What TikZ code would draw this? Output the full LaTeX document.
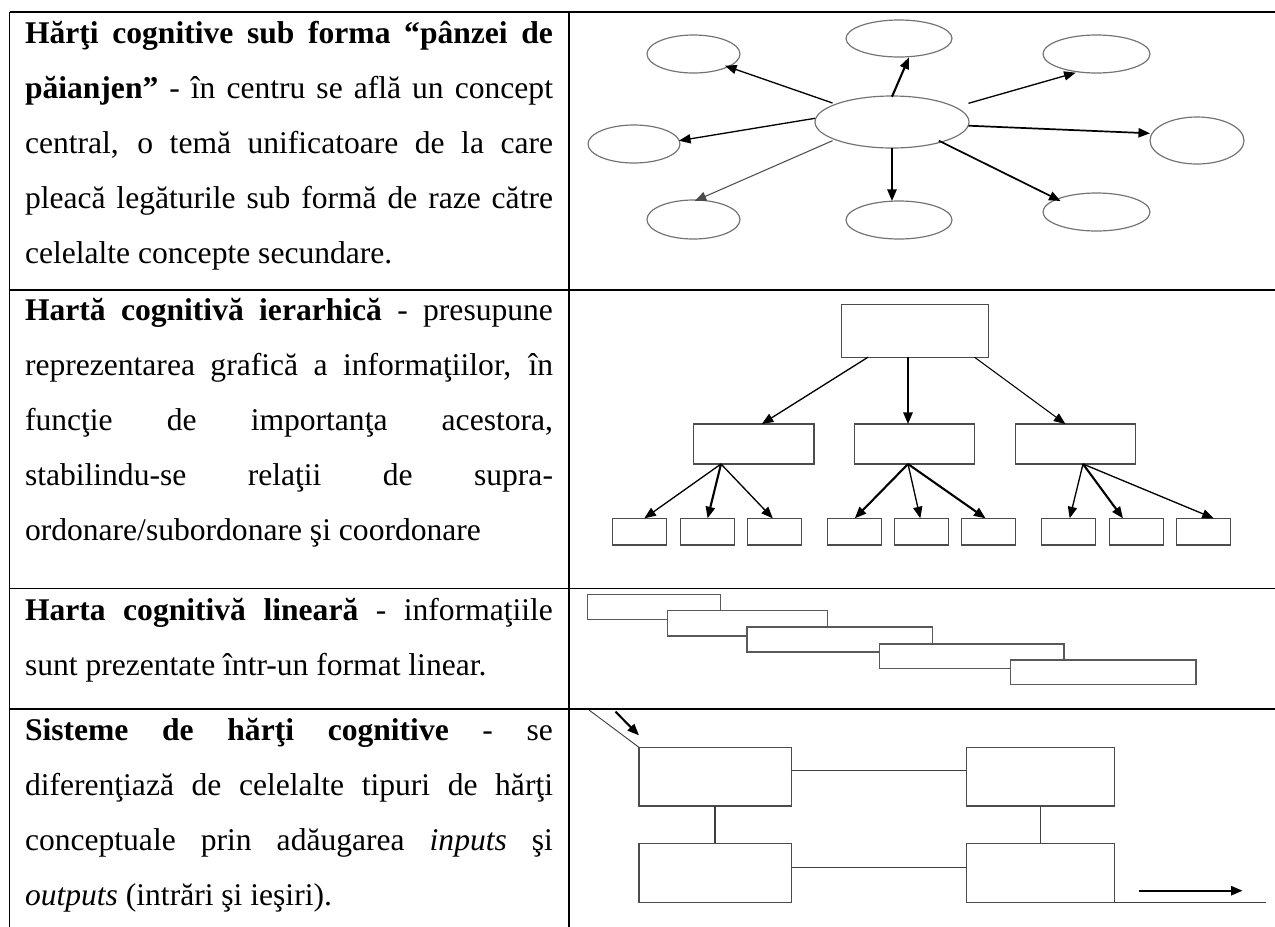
\documentclass[tikz,border=0pt]{standalone}
\usepackage{fontspec}
\setmainfont{Liberation Serif}
\usetikzlibrary{arrows.meta,shapes.geometric}

% one justified line of the text column (528 units wide)
\newcommand{\justline}[1]{\hbox to 200.64pt{#1}}

\begin{document}
\begin{tikzpicture}[x=0.38pt,y=-0.38pt,
  rule/.style={line width=0.75pt},
  txt/.style={anchor=base west, inner sep=0pt, outer sep=0pt, font=\fontsize{12pt}{14pt}\selectfont},
  bubble/.style={ellipse, draw=black!55, line width=0.45pt, inner sep=0pt, outer sep=0pt},
  box/.style={rectangle, draw=black!70, line width=0.45pt, inner sep=0pt, outer sep=0pt},
  lbox/.style={box, fill=white, draw=black!65, line width=0.5pt},
  arr/.style={-{Triangle[length=4.4pt,width=3.5pt]}, line width=0.5pt},
  arrb/.style={arr, line width=0.8pt},
  link/.style={draw=black!75, line width=0.45pt}
]
\useasboundingbox (0,0) rectangle (1275,927);

% ---------------- table rules ----------------
\draw[rule] (9.5,12) -- (1275,12);
\draw[rule] (9.5,290) -- (1275,290);
\draw[rule] (9.5,588.5) -- (1275,588.5);
\draw[rule] (9.5,709) -- (1275,709);
\draw[rule] (9.5,12) -- (9.5,927);
\draw[rule] (569,12) -- (569,927);

% ---------------- row 1 text ----------------
\node[txt] (t11) at (25,43)  {\justline{\textbf{Hărţi cognitive sub forma “pânzei de}}};
\node[txt] (t12) at (25,98)  {\justline{\textbf{păianjen”} - în centru se află un concept}};
\node[txt] (t13) at (25,153) {\justline{central, o temă unificatoare de la care}};
\node[txt] (t14) at (25,208) {\justline{pleacă legăturile sub formă de raze către}};
\node[txt] (t15) at (25,263) {celelalte concepte secundare.};

% ---------------- row 2 text ----------------
\node[txt] (t21) at (25,320.7) {\justline{\textbf{Hartă cognitivă ierarhică} - presupune}};
\node[txt] (t22) at (25,375.5) {\justline{reprezentarea grafică a informaţiilor, în}};
\node[txt] (t23) at (25,430.3) {\justline{funcţie de importanţa acestora,}};
\node[txt] (t24) at (25,485)   {\justline{stabilindu-se relaţii de supra-}};
\node[txt] (t25) at (25,540)   {ordonare/subordonare şi coordonare};

% ---------------- row 3 text ----------------
\node[txt] (t31) at (25,620) {\justline{\textbf{Harta cognitivă lineară} - informaţiile}};
\node[txt] (t32) at (25,675) {sunt prezentate într-un format linear.};

% ---------------- row 4 text ----------------
\node[txt] (t41) at (25,740) {\justline{\textbf{Sisteme de hărţi cognitive} - se}};
\node[txt] (t42) at (25,795) {\justline{diferenţiază de celelalte tipuri de hărţi}};
\node[txt] (t43) at (25,850) {\justline{conceptuale prin adăugarea \textit{inputs} şi}};
\node[txt] (t44) at (25,905) {\textit{outputs} (intrări şi ieşiri).};

% ---------------- spider map ----------------
\node[bubble, minimum width=154*0.38pt, minimum height=52*0.38pt] (c)  at (892,122) {};
\node[bubble, minimum width=93*0.38pt,  minimum height=38*0.38pt] (tl) at (693.5,54) {};
\node[bubble, minimum width=106*0.38pt, minimum height=37*0.38pt] (tp) at (899,38.5) {};
\node[bubble, minimum width=107*0.38pt, minimum height=38*0.38pt] (tr) at (1096.5,54) {};
\node[bubble, minimum width=92*0.38pt,  minimum height=38*0.38pt] (lf) at (634,144) {};
\node[bubble, minimum width=94*0.38pt,  minimum height=47*0.38pt] (rt) at (1197,140.5) {};
\node[bubble, minimum width=93*0.38pt,  minimum height=39*0.38pt] (bl) at (693.5,219.5) {};
\node[bubble, minimum width=106*0.38pt, minimum height=38*0.38pt] (bt) at (899,220) {};
\node[bubble, minimum width=107*0.38pt, minimum height=38*0.38pt] (br) at (1096.5,212) {};

\draw[arr]  ([shift={(-59.5,-19)}]c.center) -- ([shift={(31.5,11.7)}]tl.center);
\draw[arrb] ([shift={(0,-25.3)}]c.center)   -- ([shift={(10,18.8)}]tp.center);
\draw[arr]  ([shift={(76.5,-18.7)}]c.center) -- ([shift={(-20.8,18.7)}]tr.center);
\draw[arr]  ([shift={(-77,-3.7)}]c.center)  -- ([shift={(45,-3.3)}]lf.center);
\draw[arr, line width=0.65pt] ([shift={(76.5,3.7)}]c.center) -- ([shift={(-47,-7.2)}]rt.center);
\draw[arr, draw=black!70, line width=0.4pt] ([shift={(-59.5,18.7)}]c.center) -- ([shift={(1.2,-18.5)}]bl.center);
\draw[arrb] ([shift={(0,26.3)}]c.center)    -- ([shift={(-7,-19)}]bt.center);
\draw[arr, line width=0.65pt] ([shift={(46.8,18.7)}]c.center) -- ([shift={(-35.9,-11)}]br.center);

% ---------------- hierarchy ----------------
\node[box, minimum width=147*0.38pt, minimum height=53*0.38pt] (h0) at (915,330.7) {};
\node[box, minimum width=120.5*0.38pt, minimum height=40*0.38pt] (ha) at (753.8,444) {};
\node[box, minimum width=120.5*0.38pt, minimum height=40*0.38pt] (hb) at (914.4,444) {};
\node[box, minimum width=120.5*0.38pt, minimum height=40*0.38pt] (hc) at (1075.4,444) {};
\foreach \n/\x in {1/639.7,2/707.2,3/774.6,4/854.8,5/921.3,6/988.6,7/1068.9,8/1136.3,9/1203.1}
  \node[box, minimum width=54*0.38pt, minimum height=26.7*0.38pt] (b\n) at (\x,531.7) {};

\draw[arr]  ([shift={(-47,0)}]h0.south)  -- ([shift={(8,0)}]ha.north);
\draw[arrb] ([shift={(-7,0)}]h0.south)   -- ([shift={(-6.4,0)}]hb.north);
\draw[arr, line width=0.4pt] ([shift={(59.5,0)}]h0.south) -- ([shift={(-10,0)}]hc.north);

\draw[arr]  ([shift={(-32.8,0)}]ha.south) -- ([shift={(4.6,0)}]b1.north);
\draw[arrb] ([shift={(-32.8,0)}]ha.south) -- ([shift={(0.4,0)}]b2.north);
\draw[arr]  ([shift={(-32.8,0)}]ha.south) -- ([shift={(-1.8,0)}]b3.north);
\draw[arrb] ([shift={(-6.4,0)}]hb.south)  -- (b4.north);
\draw[arr]  ([shift={(-6.4,0)}]hb.south)  -- ([shift={(-1,0)}]b5.north);
\draw[arrb] ([shift={(-6.4,0)}]hb.south)  -- ([shift={(-3,0)}]b6.north);
\draw[arr]  ([shift={(7.6,0)}]hc.south)   -- ([shift={(0.8,0)}]b7.north);
\draw[arrb] ([shift={(7.6,0)}]hc.south)   -- ([shift={(-13.3,0)}]b8.north);
\draw[arr]  ([shift={(7.6,0)}]hc.south)   -- ([shift={(10.7,0)}]b9.north);

% ---------------- linear map ----------------
\node[lbox, minimum width=133*0.38pt,   minimum height=25*0.38pt]   (l1) at (654,606.8) {};
\node[lbox, minimum width=160*0.38pt,   minimum height=25.3*0.38pt] (l2) at (747.3,623.3) {};
\node[lbox, minimum width=185.3*0.38pt, minimum height=25*0.38pt]   (l3) at (839.7,639.5) {};
\node[lbox, minimum width=184.8*0.38pt, minimum height=24.3*0.38pt] (l4) at (971.6,656.2) {};
\node[lbox, minimum width=185.2*0.38pt, minimum height=24.7*0.38pt] (l5) at (1103.4,672.3) {};

% ---------------- system of maps ----------------
\node[box, minimum width=152.4*0.38pt, minimum height=58.7*0.38pt] (s1) at (715.2,776.7) {};
\node[box, minimum width=148*0.38pt,   minimum height=58.7*0.38pt] (s2) at (1040.5,776.7) {};
\node[box, minimum width=152.4*0.38pt, minimum height=59.4*0.38pt] (s3) at (715.2,873) {};
\node[box, minimum width=148*0.38pt,   minimum height=59.4*0.38pt] (s4) at (1040.5,873) {};

\draw[link] ([shift={(0,-6)}]s1.east) -- ([shift={(0,-6)}]s2.west);
\draw[link] ([shift={(0,-5.7)}]s3.east) -- ([shift={(0,-5.7)}]s4.west);
\draw[link, line width=0.6pt] (s1.south) -- (s3.north);
\draw[link, line width=0.6pt] (s2.south) -- (s4.north);

\coordinate (inA) at (589,710);
\coordinate (inB) at (615.5,711.7);
\draw[link, line width=0.35pt] (inA) -- (s1.north west);
\draw[arrb] (inB) -- ([shift={(0,-12)}]s1.north west);

\coordinate (outA) at (1139.3,890.7);
\coordinate (outB) at (1242.6,890.7);
\coordinate (outC) at (1266,902.7);
\draw[arrb] (outA) -- (outB);
\draw[link] (s4.south east) -- (outC);
\end{tikzpicture}
\end{document}
